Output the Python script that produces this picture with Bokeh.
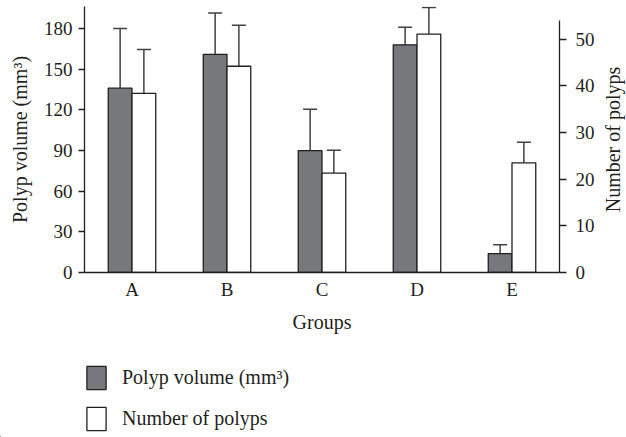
from bokeh.plotting import figure
from bokeh.layouts import column, row
from bokeh.models import (ColumnDataSource, FactorRange, Range1d, LinearAxis, Whisker,
                          TeeHead, Legend, LegendItem, FixedTicker)
from bokeh.transform import dodge
from bokeh.embed import file_html
from bokeh.resources import INLINE

groups = ["A", "B", "C", "D", "E"]
volume = [136, 161, 90, 168, 14]
volume_err = [44, 30.5, 30.5, 13, 6.5]
polyps = [38.4, 44.2, 21.3, 51.1, 23.5]
polyps_err = [9.4, 8.8, 4.9, 5.7, 4.4]
left_ticks = [0, 30, 60, 90, 120, 150, 180]
right_ticks = [0, 10, 20, 30, 40, 50]
series_labels = ["Polyp volume (mm³)", "Number of polyps"]

src = ColumnDataSource(dict(
    group=groups, volume=volume,
    volume_up=[v + e for v, e in zip(volume, volume_err)],
    polyps=polyps,
    polyps_up=[v + e for v, e in zip(polyps, polyps_err)],
))

FONT = "Liberation Serif"
INK = "#231f20"
DARK = "#77787b"
ERR = "#414042"

p = figure(width=600, height=345, x_range=FactorRange(*groups),
           y_range=Range1d(0, 196.3), output_backend="svg", toolbar_location=None,
           min_border_left=84, min_border_right=41, min_border_top=6, min_border_bottom=73)
p.extra_y_ranges = {"right": Range1d(0, 57)}
p.outline_line_color = None
p.xgrid.visible = False
p.ygrid.visible = False

p.vbar(x=dodge("group", -0.125, range=p.x_range), top="volume", width=0.25, source=src,
       fill_color=DARK, line_color=INK, line_width=1.3)
p.vbar(x=dodge("group", 0.125, range=p.x_range), top="polyps", width=0.25, source=src,
       fill_color="white", line_color=INK, line_width=1.3, y_range_name="right")

w1 = Whisker(base=dodge("group", -0.125, range=p.x_range), lower="volume", upper="volume_up",
             source=src, line_color=ERR, line_width=1.5, lower_head=None,
             upper_head=TeeHead(size=14, line_color=ERR, line_width=1.5))
w2 = Whisker(base=dodge("group", 0.125, range=p.x_range), lower="polyps", upper="polyps_up",
             source=src, line_color=ERR, line_width=1.5, lower_head=None,
             upper_head=TeeHead(size=14, line_color=ERR, line_width=1.5),
             y_range_name="right")
p.add_layout(w1)
p.add_layout(w2)

def style_axis(ax):
    ax.axis_line_color = INK
    ax.axis_line_width = 1.3
    ax.major_tick_line_color = INK
    ax.major_tick_line_width = 1.3
    ax.major_tick_in = 0
    ax.major_tick_out = 6
    ax.minor_tick_line_color = None
    ax.major_label_text_font = FONT
    ax.major_label_text_font_size = "19px"
    ax.major_label_text_color = INK
    ax.axis_label_text_font = FONT
    ax.axis_label_text_font_size = "20px"
    ax.axis_label_text_font_style = "normal"
    ax.axis_label_text_color = INK

ya = p.yaxis[0]
style_axis(ya)
ya.ticker = FixedTicker(ticks=left_ticks)
ya.axis_label = series_labels[0]
ya.major_label_standoff = 6
ya.axis_label_standoff = 10

yr = LinearAxis(y_range_name="right", ticker=FixedTicker(ticks=right_ticks), bounds=(0, 54))
style_axis(yr)
yr.major_tick_out = 7
yr.major_label_standoff = 9
p.add_layout(yr, "right")

xa = p.xaxis[0]
style_axis(xa)
xa.major_tick_out = 0
xa.major_label_standoff = 6
xa.axis_label = "Groups"
xa.axis_label_standoff = 8

# narrow strip holding the right-hand axis title (reads bottom-to-top like the reference)
r = figure(width=26, height=345, output_backend="svg", toolbar_location=None,
           x_range=Range1d(0, 1), y_range=Range1d(0, 1), x_axis_location=None,
           min_border_left=25, min_border_right=0, min_border_top=6, min_border_bottom=73)
r.grid.visible = False
r.outline_line_color = None
ra = r.yaxis[0]
style_axis(ra)
ra.ticker = FixedTicker(ticks=[])
ra.axis_line_color = None
ra.major_tick_out = 0
ra.major_label_standoff = 0
ra.axis_label = series_labels[1]
ra.axis_label_standoff = 3

# legend strip below the chart (its swatch renderers lie outside the visible ranges)
q = figure(width=626, height=92, output_backend="svg", toolbar_location=None,
           x_range=Range1d(1000, 1001), y_range=Range1d(1000, 1001),
           x_axis_location=None, y_axis_location=None,
           min_border_left=0, min_border_right=0, min_border_top=0, min_border_bottom=0)
q.grid.visible = False
q.outline_line_color = None
r1 = q.vbar(x="volume", top="volume", width=0.25, source=src, fill_color=DARK, line_color=INK, line_width=1.3)
r2 = q.vbar(x="polyps", top="polyps", width=0.25, source=src, fill_color="white", line_color=INK, line_width=1.3)
legend = Legend(items=[LegendItem(label=series_labels[0], renderers=[r1]),
                       LegendItem(label=series_labels[1], renderers=[r2])],
                location=(84, 4), orientation="vertical",
                glyph_width=24, glyph_height=29, label_height=29, spacing=12,
                padding=0, margin=0, label_standoff=14,
                label_text_font=FONT, label_text_font_size="20px", label_text_color=INK,
                border_line_color=None, background_fill_alpha=0)
q.add_layout(legend)

layout = column(row(p, r, spacing=0), q, spacing=0)
open("out.html", "w").write(file_html(layout, INLINE))
